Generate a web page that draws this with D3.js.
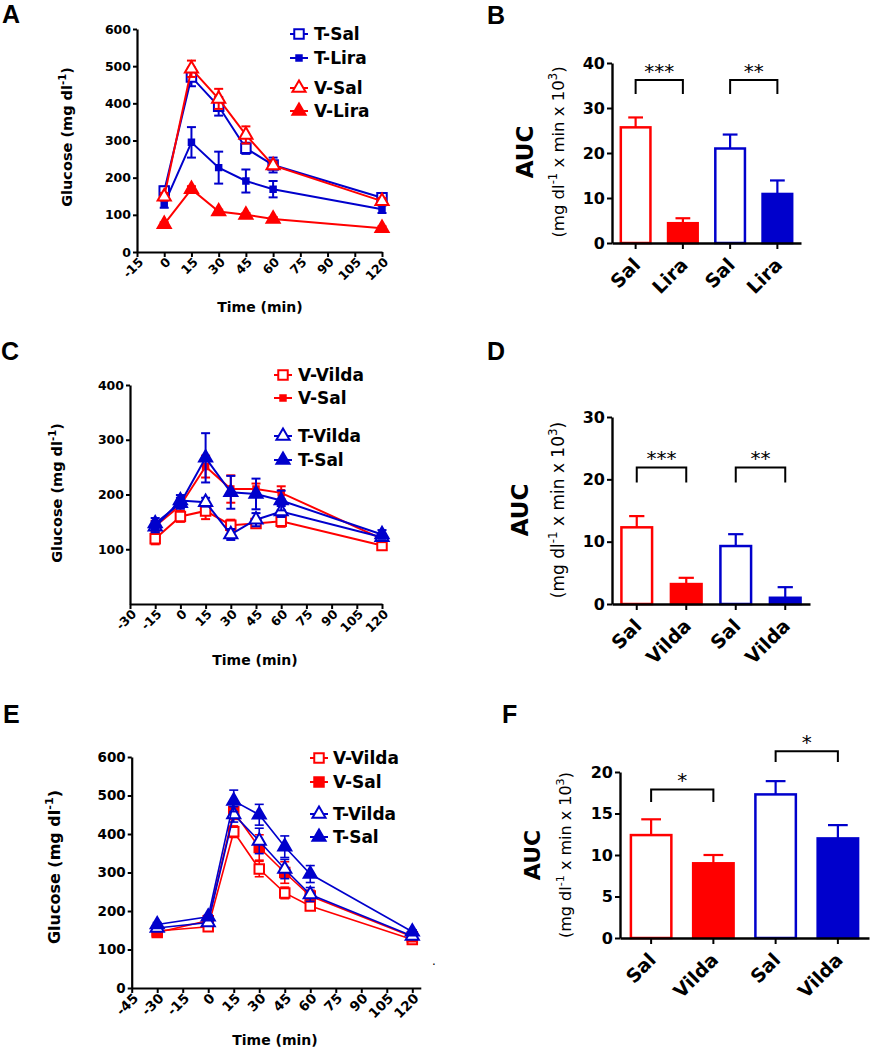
<!DOCTYPE html>
<html><head><meta charset="utf-8">
<script src="https://cdn.jsdelivr.net/npm/d3@7"></script>
<style>
body{margin:0;background:#fff}
svg{display:block}
text{font-family:"DejaVu Sans",sans-serif}
</style>
</head><body>
<svg id="c" width="871" height="1050"></svg>
<script>
const RED = "#ff0000", BLUE = "#0000cc";

// ---------- Panel A data ----------
const timesA = [0, 15, 30, 45, 60, 120];
const xTicksA = [-15, 0, 15, 30, 45, 60, 75, 90, 105, 120];
const yTicksA = [0, 100, 200, 300, 400, 500, 600];
const tSalA = [164, 471, 392, 279, 234, 146];
const tSalErrA = [12, 25, 25, 15, 20, 10];
const tLiraA = [129, 295, 227, 191, 169, 115];
const tLiraErrA = [10, 41, 43, 31, 22, 10];
const vSalA = [149, 493, 412, 315, 233, 137];
const vSalErrA = [10, 22, 27, 23, 10, 8];
const vLiraA = [75, 169, 109, 100, 89, 64];
const vLiraErrA = [5, 8, 5, 5, 5, 5];

// ---------- Panel B data ----------
const catsB = ["Sal", "Lira", "Sal", "Lira"];
const aucB = [25.7, 4.4, 21.0, 10.9];
const aucErrB = [2.2, 1.1, 3.1, 3.0];
const yTicksB = [0, 10, 20, 30, 40];
const sigB = ["***", "**"];

// ---------- Panel C data ----------
const timesC = [-15, 0, 15, 30, 45, 60, 120];
const xTicksC = [-30, -15, 0, 15, 30, 45, 60, 75, 90, 105, 120];
const yTicksC = [100, 200, 300, 400];
const vVildaC = [119, 160, 170, 144, 147, 151, 107];
const vVildaErrC = [10, 10, 15, 10, 8, 10, 6];
const vSalC = [142, 180, 251, 210, 210, 203, 119];
const vSalErrC = [10, 10, 20, 25, 10, 12, 6];
const tVildaC = [141, 189, 186, 127, 154, 169, 122];
const tVildaErrC = [10, 10, 8, 10, 12, 10, 6];
const tSalC = [147, 184, 267, 204, 201, 189, 127];
const tSalErrC = [10, 10, 45, 30, 28, 18, 8];

// ---------- Panel D data ----------
const catsD = ["Sal", "Vilda", "Sal", "Vilda"];
const aucD = [12.3, 3.2, 9.3, 1.0];
const aucErrD = [1.8, 1.0, 1.9, 1.7];
const yTicksD = [0, 10, 20, 30];
const sigD = ["***", "**"];

// ---------- Panel E data ----------
const timesE = [-30, 0, 15, 30, 45, 60, 120];
const xTicksE = [-45, -30, -15, 0, 15, 30, 45, 60, 75, 90, 105, 120];
const yTicksE = [0, 100, 200, 300, 400, 500, 600];
const vVildaE = [148, 159, 406, 309, 247, 213, 126];
const vVildaErrE = [5, 5, 15, 20, 15, 8, 5];
const vSalE = [144, 175, 458, 365, 300, 239, 133];
const vSalErrE = [5, 5, 20, 33, 28, 15, 5];
const tVildaE = [156, 170, 451, 382, 309, 243, 135];
const tVildaErrE = [5, 5, 20, 33, 25, 18, 5];
const tSalE = [165, 185, 486, 450, 367, 296, 146];
const tSalErrE = [5, 5, 28, 27, 28, 22, 5];

// ---------- Panel F data ----------
const catsF = ["Sal", "Vilda", "Sal", "Vilda"];
const aucF = [12.4, 9.0, 17.3, 12.0];
const aucErrF = [1.9, 1.0, 1.6, 1.6];
const yTicksF = [0, 5, 10, 15, 20];
const sigF = ["*", "*"];

const barColors = [RED, RED, BLUE, BLUE];
const barFilled = [false, true, false, true];

const svg = d3.select("#c");
const fmt = d => String(d);

function sym(shape, size) {
  return d3.symbol().type(shape === "square" ? d3.symbolSquare : d3.symbolTriangle).size(size)();
}

function rotTitle(g, cx, cy, parts, fs, weight) {
  const t = g.append("text")
    .attr("transform", `translate(${cx},${cy}) rotate(-90)`)
    .attr("text-anchor", "middle")
    .attr("dy", "0.35em")
    .style("font-size", fs + "px")
    .style("font-weight", weight);
  addParts(t, parts, fs);
}
function addParts(t, parts, fs) {
  let shift = 0;
  parts.forEach(p => {
    const isSup = typeof p !== "string";
    const txt = isSup ? p.sup : p;
    const target = isSup ? -fs * 0.42 : 0;
    t.append("tspan")
      .attr("dy", target - shift)
      .style("font-size", isSup ? (fs * 0.7) + "px" : fs + "px")
      .text(txt);
    shift = target;
  });
}

function letter(txt, x, y) {
  svg.append("text").attr("x", x).attr("y", y)
    .style("font-family", "'Liberation Sans',Arial,sans-serif")
    .style("font-weight", 700).style("font-size", "25px").text(txt);
}

function linePanel(cfg) {
  const g = svg.append("g");
  const x = d3.scaleLinear().domain(cfg.xDomain).range(cfg.xRange);
  const y = d3.scaleLinear().domain(cfg.yDomain).range(cfg.yRange);
  const y0 = cfg.yRange[0], x0 = cfg.xRange[0];

  const ya = g.append("g").attr("transform", `translate(${x0},0)`)
    .call(d3.axisLeft(y).tickValues(cfg.yTicks).tickSize(4).tickSizeOuter(0).tickFormat(fmt));
  const xa = g.append("g").attr("transform", `translate(0,${y0})`)
    .call(d3.axisBottom(x).tickValues(cfg.xTicks).tickSize(5).tickSizeOuter(0).tickFormat(fmt));
  [ya, xa].forEach(a => {
    a.select(".domain").attr("stroke-width", 2.2);
    a.selectAll(".tick line").attr("stroke-width", 2);
    a.selectAll("text").style("font-size", cfg.tickFs + "px").style("font-weight", "bold")
      .style("font-family", "'DejaVu Sans'").attr("fill", "#000");
  });
  ya.selectAll("text").attr("x", -6);
  xa.selectAll("text").attr("x", -3).attr("y", 8).attr("dy", "0.35em")
    .attr("transform", "rotate(-45)").style("text-anchor", "end");

  const line = d3.line().x(d => x(d.t)).y(d => y(d.v));
  cfg.series.forEach(s => {
    const pts = s.times.map((t, i) => ({ t, v: s.v[i], e: s.e[i] }));
    const sg = g.append("g");
    sg.append("path").datum(pts).attr("d", line).attr("fill", "none")
      .attr("stroke", s.color).attr("stroke-width", cfg.lw);
    const eb = sg.selectAll(".eb").data(pts).enter().append("g");
    eb.append("line").attr("x1", d => x(d.t)).attr("x2", d => x(d.t))
      .attr("y1", d => y(d.v - d.e)).attr("y2", d => y(d.v + d.e))
      .attr("stroke", s.color).attr("stroke-width", cfg.lw);
    [-1, 1].forEach(sgn => {
      eb.append("line").attr("x1", d => x(d.t) - 4.5).attr("x2", d => x(d.t) + 4.5)
        .attr("y1", d => y(d.v + sgn * d.e)).attr("y2", d => y(d.v + sgn * d.e))
        .attr("stroke", s.color).attr("stroke-width", cfg.lw);
    });
    sg.selectAll(".m").data(pts).enter().append("path")
      .attr("d", sym(s.shape, s.size))
      .attr("transform", d => `translate(${x(d.t)},${y(d.v)})`)
      .attr("fill", s.filled ? s.color : "#fff")
      .attr("stroke", s.color).attr("stroke-width", 2);
  });

  // legend
  const lg = g.append("g");
  cfg.legend.forEach(L => {
    const s = cfg.series.find(q => q.name === L.name);
    const ly = L.y;
    lg.append("line").attr("x1", cfg.legX - 9).attr("x2", cfg.legX + 9)
      .attr("y1", ly).attr("y2", ly).attr("stroke", s.color).attr("stroke-width", 2);
    lg.append("path").attr("d", sym(s.shape, s.size))
      .attr("transform", `translate(${cfg.legX},${ly})`)
      .attr("fill", s.filled ? s.color : "#fff").attr("stroke", s.color).attr("stroke-width", 2);
    lg.append("text").attr("x", cfg.legTextX).attr("y", ly).attr("dy", "0.36em")
      .style("font-size", "17px").style("font-weight", "bold").text(s.name);
  });

  rotTitle(g, cfg.yTitleX, cfg.yTitleY, cfg.yTitle, cfg.yTitleFs, "bold");
  g.append("text").attr("x", cfg.xTitleX).attr("y", cfg.xTitleY).attr("text-anchor", "middle")
    .attr("dy", "0.35em").style("font-size", "14px").style("font-weight", "bold").text("Time (min)");
}

function barPanel(cfg) {
  const g = svg.append("g");
  const idx = d3.range(cfg.values.length);
  const x = d3.scaleBand().domain(idx).range(cfg.xRange).paddingInner(cfg.pad).paddingOuter(cfg.pad / 2);
  const y = d3.scaleLinear().domain(cfg.yDomain).range(cfg.yRange);
  const y0 = cfg.yRange[0], x0 = cfg.xRange[0];
  const bw = x.bandwidth();

  idx.forEach(i => {
    const cx = x(i) + bw / 2;
    const v = cfg.values[i], e = cfg.errs[i], c = barColors[i];
    g.append("line").attr("x1", cx).attr("x2", cx).attr("y1", y(v)).attr("y2", y(v + e))
      .attr("stroke", c).attr("stroke-width", 2.2);
    g.append("line").attr("x1", cx - bw * 0.23).attr("x2", cx + bw * 0.23)
      .attr("y1", y(v + e)).attr("y2", y(v + e)).attr("stroke", c).attr("stroke-width", 2.2);
    g.append("rect").attr("x", x(i) + 1.25).attr("y", y(v)).attr("width", bw - 2.5)
      .attr("height", y(0) - y(v))
      .attr("fill", barFilled[i] ? c : "#fff").attr("stroke", c).attr("stroke-width", 2.5);
  });

  const ya = g.append("g").attr("transform", `translate(${x0},0)`)
    .call(d3.axisLeft(y).tickValues(cfg.yTicks).tickSize(5).tickSizeOuter(0).tickFormat(fmt));
  const xa = g.append("g").attr("transform", `translate(0,${y0})`)
    .call(d3.axisBottom(x).tickSize(6).tickSizeOuter(0).tickFormat(i => cfg.cats[i]));
  [ya, xa].forEach(a => {
    a.select(".domain").attr("stroke-width", 2.4);
    a.selectAll(".tick line").attr("stroke-width", 2);
    a.selectAll("text").style("font-weight", "bold").attr("fill", "#000").style("font-family", "'DejaVu Sans'");
  });
  ya.selectAll("text").attr("x", -7).style("font-size", cfg.tickFs + "px");
  xa.selectAll("text").attr("x", -12).attr("y", 14).attr("dy", "0.35em")
    .attr("transform", "rotate(-45)").style("text-anchor", "end").style("font-size", "19px");

  // significance brackets
  cfg.sig.forEach((s, k) => {
    const a = x(s.from) + bw / 2, b = x(s.to) + bw / 2;
    g.append("path")
      .attr("d", `M${a},${y(s.leg)}V${y(s.top)}H${b}V${y(s.leg)}`)
      .attr("fill", "none").attr("stroke", "#000").attr("stroke-width", 2);
    g.append("text").attr("x", (a + b) / 2).attr("y", y(s.top) - 4).attr("text-anchor", "middle")
      .attr("dy", "0.1em")
      .style("font-size", "20px").text(cfg.sigLabels[k]);
  });

  rotTitle(g, cfg.aucX, cfg.titleY, ["AUC"], cfg.aucFs, "bold");
  rotTitle(g, cfg.subX, cfg.titleY, ["(mg dl", { sup: "-1" }, " x min x 10", { sup: "3" }, ")"], cfg.subFs, "normal");
}

function mk(name, times, v, e, color, shape, filled, size) {
  return { name, times, v, e, color, shape, filled, size };
}

// ---------- Panel A ----------
letter("A", 2, 23);
linePanel({
  xDomain: [-15, 120], xRange: [137, 382], yDomain: [0, 600], yRange: [252, 29],
  xTicks: xTicksA, yTicks: yTicksA, tickFs: 12.5, lw: 2,
  series: [
    mk("T-Sal", timesA, tSalA, tSalErrA, BLUE, "square", false, 90),
    mk("T-Lira", timesA, tLiraA, tLiraErrA, BLUE, "square", true, 30),
    mk("V-Sal", timesA, vSalA, vSalErrA, RED, "triangle", false, 75),
    mk("V-Lira", timesA, vLiraA, vLiraErrA, RED, "triangle", true, 75)
  ],
  legend: [{ name: "T-Sal", y: 34 }, { name: "T-Lira", y: 58 }, { name: "V-Sal", y: 88 }, { name: "V-Lira", y: 111 }],
  legX: 299, legTextX: 314,
  yTitle: ["Glucose (mg dl", { sup: "-1" }, ")"], yTitleX: 72, yTitleY: 137, yTitleFs: 14.5,
  xTitleX: 260, xTitleY: 307
});

// ---------- Panel B ----------
letter("B", 487, 24);
barPanel({
  cats: catsB, values: aucB, errs: aucErrB, yTicks: yTicksB, tickFs: 16,
  xRange: [612, 801], pad: 0.32, yDomain: [0, 40], yRange: [243, 63],
  sig: [{ from: 0, to: 1, top: 36.2, leg: 33.1 }, { from: 2, to: 3, top: 36.2, leg: 33.1 }],
  sigLabels: sigB,
  aucX: 533, subX: 564, titleY: 152, aucFs: 23, subFs: 16.5
});

// ---------- Panel C ----------
letter("C", 1, 360);
linePanel({
  xDomain: [-30, 120], xRange: [130, 382], yDomain: [0, 400], yRange: [604, 385],
  xTicks: xTicksC, yTicks: yTicksC, tickFs: 12.5, lw: 2,
  series: [
    mk("V-Vilda", timesC, vVildaC, vVildaErrC, RED, "square", false, 90),
    mk("V-Sal", timesC, vSalC, vSalErrC, RED, "square", true, 30),
    mk("T-Vilda", timesC, tVildaC, tVildaErrC, BLUE, "triangle", false, 75),
    mk("T-Sal", timesC, tSalC, tSalErrC, BLUE, "triangle", true, 75)
  ],
  legend: [{ name: "V-Vilda", y: 375 }, { name: "V-Sal", y: 398 }, { name: "T-Vilda", y: 436 }, { name: "T-Sal", y: 460 }],
  legX: 283, legTextX: 298,
  yTitle: ["Glucose  (mg dl", { sup: "-1" }, ")"], yTitleX: 62, yTitleY: 493, yTitleFs: 14.5,
  xTitleX: 255, xTitleY: 660
});

// ---------- Panel D ----------
letter("D", 487, 360);
barPanel({
  cats: catsD, values: aucD, errs: aucErrD, yTicks: yTicksD, tickFs: 16,
  xRange: [612, 810], pad: 0.33, yDomain: [0, 30], yRange: [604, 417],
  sig: [{ from: 0, to: 1, top: 21.9, leg: 19.5 }, { from: 2, to: 3, top: 21.9, leg: 19.5 }],
  sigLabels: sigD,
  aucX: 528, subX: 564, titleY: 510, aucFs: 23, subFs: 17
});

// ---------- Panel E ----------
letter("E", 3, 723);
linePanel({
  xDomain: [-45, 125], xRange: [131.7, 420.8], yDomain: [0, 600], yRange: [988, 757],
  xTicks: xTicksE, yTicks: yTicksE, tickFs: 13.5, lw: 1.6,
  series: [
    mk("V-Vilda", timesE, vVildaE, vVildaErrE, RED, "square", false, 90),
    mk("V-Sal", timesE, vSalE, vSalErrE, RED, "square", true, 90),
    mk("T-Vilda", timesE, tVildaE, tVildaErrE, BLUE, "triangle", false, 75),
    mk("T-Sal", timesE, tSalE, tSalErrE, BLUE, "triangle", true, 75)
  ],
  legend: [{ name: "V-Vilda", y: 758 }, { name: "V-Sal", y: 782 }, { name: "T-Vilda", y: 814 }, { name: "T-Sal", y: 837 }],
  legX: 319, legTextX: 333,
  yTitle: ["Glucose (mg dl", { sup: "-1" }, ")"], yTitleX: 60, yTitleY: 867, yTitleFs: 16,
  xTitleX: 275, xTitleY: 1040
});
svg.append("text").attr("x", 432).attr("y", 965).style("font-size", "12px").text(".");

// ---------- Panel F ----------
letter("F", 502, 723);
barPanel({
  cats: catsF, values: aucF, errs: aucErrF, yTicks: yTicksF, tickFs: 16,
  xRange: [620, 869], pad: 0.31, yDomain: [0, 20], yRange: [938, 772],
  sig: [{ from: 0, to: 1, top: 17.9, leg: 16.4 }, { from: 2, to: 3, top: 22.5, leg: 21.2 }],
  sigLabels: sigF,
  aucX: 540, subX: 571, titleY: 855, aucFs: 22, subFs: 16
});
</script>
</body></html>
